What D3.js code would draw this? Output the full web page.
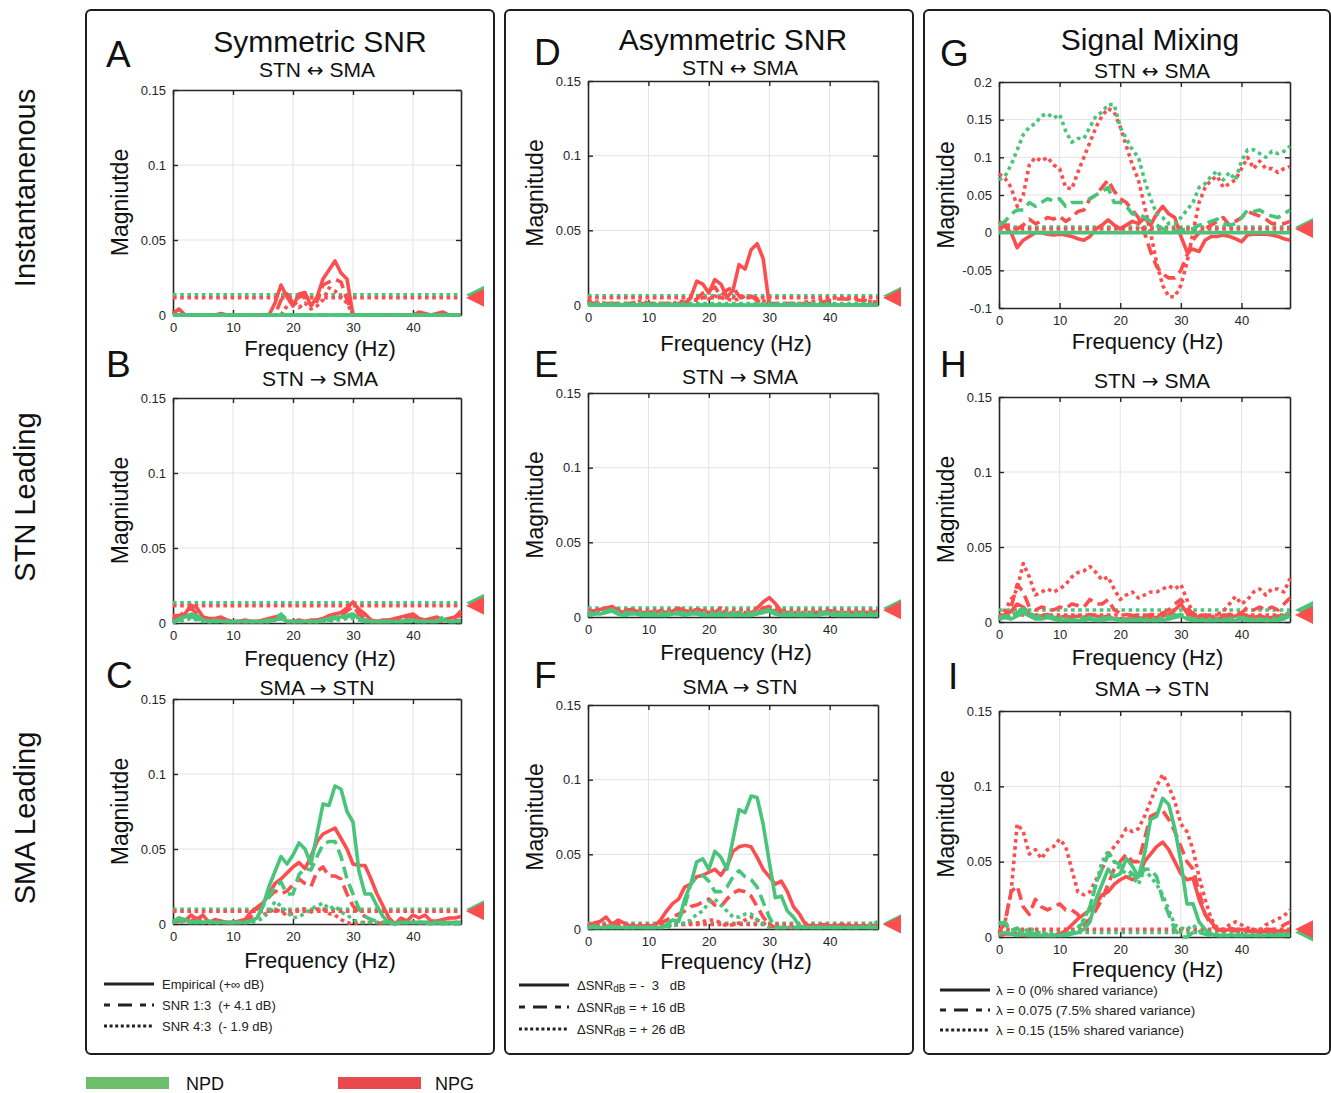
<!DOCTYPE html>
<html><head><meta charset="utf-8">
<script src="https://cdn.jsdelivr.net/npm/d3@7"></script>
<style>body{margin:0;background:#fff} text{font-family:"Liberation Sans",Arial,Helvetica,sans-serif;}</style>
</head><body>
<svg id="chart" width="1331" height="1093" xmlns="http://www.w3.org/2000/svg"></svg>
<script>
// ---------------- DATA ----------------
const freq = [0,1,2,3,4,5,6,7,8,9,10,11,12,13,14,15,16,17,18,19,20,21,22,23,24,25,26,27,28,29,30,31,32,33,34,35,36,37,38,39,40,41,42,43,44,45,46,47,48];
const xTicks = [0,10,20,30,40];
const yTicksStd = [0,0.05,0.1,0.15];
const yTicksMix = [-0.1,-0.05,0,0.05,0.1,0.15,0.2];
const groups = ["NPD","NPG"];

// Panel A (Symmetric SNR, STN <-> SMA)
const a_npd_emp = [0,0,0,0,0,0,0,0,0,0, 0,0,0,0,0,0,0,0,0,0, 0,0,0,0,0,0,0,0,0,0, 0,0,0,0,0,0,0,0,0,0, 0,0,0,0,0,0,0,0,0];
const a_npd_snr13 = [0,0,0,0,0,0,0,0,0,0, 0,0,0,0,0,0,0,0,0,0, 0,0,0,0,0,0,0,0,0,0, 0,0,0,0,0,0,0,0,0,0, 0,0,0,0,0,0,0,0,0];
const a_npd_snr43 = [0,0,0,0,0,0,0,0,0,0, 0,0,0,0,0,0,0,0,0,0, 0,0,0,0,0,0,0,0,0,0, 0,0,0,0,0,0,0,0,0,0, 0,0,0,0,0,0,0,0,0];
const a_npg_emp = [0.001,0.004,0,0,0,0,0,0,0.001,0, 0,0,0,0,0,0,0,0.008,0.02,0.012, 0.006,0.014,0.015,0.006,0.012,0.024,0.03,0.036,0.028,0.024, 0,0,0,0,0,0,0,0,0,0, 0,0.002,0.001,0,0.001,0.002,0,0,0];
const a_npg_snr13 = [0,0,0,0,0,0,0,0,0,0, 0,0,0,0,0,0,0,0,0.01,0.014, 0.008,0.012,0.013,0.01,0.009,0.02,0.022,0.024,0.022,0.01, 0,0,0,0,0,0,0,0,0,0, 0,0,0,0,0,0,0,0,0];
const a_npg_snr43 = [0,0,0,0,0,0,0,0,0,0, 0,0,0,0,0,0,0,0,0,0.006, 0.01,0.005,0.008,0.004,0.006,0.01,0.018,0.016,0.012,0.008, 0,0,0,0,0,0,0,0,0,0, 0,0,0,0,0,0,0,0,0];
const a_thr = [0.0135,0.0115];

// Panel B (Symmetric SNR, STN -> SMA)
const b_npd_emp = [0,0.003,0.004,0.006,0.005,0.002,0.001,0.002,0.001,0.001, 0.001,0.001,0.001,0.001,0.001,0.001,0.002,0.002,0.003,0.001, 0.001,0.001,0.001,0.001,0.001,0.002,0.003,0.004,0.004,0.005, 0.006,0.003,0.002,0.001,0.001,0.001,0.001,0.001,0.001,0.002, 0.002,0.001,0.001,0.001,0.001,0.002,0.001,0.001,0.002];
const b_npd_snr13 = [0.001,0.002,0.005,0.004,0.003,0.001,0.001,0.001,0.001,0.001, 0.001,0.001,0.001,0.001,0.001,0.001,0.001,0.002,0.006,0.002, 0.001,0.001,0.001,0.001,0.001,0.001,0.002,0.003,0.003,0.004, 0.005,0.002,0.001,0.001,0.001,0.001,0.001,0.001,0.001,0.001, 0.001,0.001,0.001,0.001,0.001,0.004,0.001,0.001,0.001];
const b_npd_snr43 = [0.001,0.001,0.002,0.003,0.002,0.001,0.001,0.001,0.001,0.001, 0.001,0.001,0.001,0.001,0.001,0.001,0.001,0.002,0.003,0.001, 0.001,0.001,0.001,0.001,0.001,0.001,0.001,0.002,0.002,0.003, 0.003,0.002,0.001,0.001,0.001,0.001,0.001,0.001,0.001,0.001, 0.001,0.001,0.001,0.001,0.001,0.003,0.001,0.001,0.001];
const b_npg_emp = [0.005,0.005,0.006,0.012,0.01,0.004,0.003,0.003,0.004,0.002, 0.001,0.001,0.002,0.001,0.001,0.002,0.003,0.004,0.005,0.001, 0.001,0.002,0.001,0.002,0.002,0.003,0.005,0.006,0.007,0.01, 0.014,0.009,0.006,0.002,0.001,0.002,0.002,0.003,0.004,0.005, 0.006,0.003,0.002,0.003,0.004,0.002,0.003,0.004,0.008];
const b_npg_snr13 = [0.003,0.004,0.008,0.01,0.006,0.003,0.002,0.002,0.003,0.001, 0.001,0.001,0.001,0.001,0.001,0.001,0.002,0.003,0.004,0.001, 0.001,0.001,0.001,0.001,0.002,0.002,0.003,0.004,0.005,0.008, 0.011,0.006,0.003,0.001,0.001,0.001,0.002,0.002,0.003,0.004, 0.004,0.002,0.002,0.002,0.003,0.002,0.002,0.003,0.006];
const b_npg_snr43 = [0.002,0.003,0.004,0.005,0.004,0.002,0.001,0.001,0.002,0.001, 0.001,0.001,0.001,0.001,0.001,0.001,0.001,0.002,0.003,0.001, 0.001,0.001,0.001,0.001,0.001,0.002,0.002,0.003,0.003,0.005, 0.006,0.004,0.002,0.001,0.001,0.001,0.001,0.001,0.002,0.002, 0.003,0.002,0.001,0.002,0.002,0.001,0.002,0.002,0.004];
const b_thr = [0.0135,0.0115];

// Panel C (Symmetric SNR, SMA -> STN)
const c_npd_emp = [0.002,0.004,0.003,0.001,0.002,0.001,0.002,0.001,0.001,0.001, 0.001,0.001,0.001,0.002,0.004,0.012,0.025,0.035,0.045,0.04, 0.046,0.054,0.05,0.04,0.06,0.08,0.079,0.092,0.09,0.075, 0.068,0.035,0.02,0.02,0.012,0.005,0.001,0,0.001,0.001, 0.001,0.001,0.001,0,0.001,0,0.001,0,0.001];
const c_npd_snr13 = [0.001,0.003,0.002,0.001,0.001,0.001,0.001,0.001,0.001,0.001, 0.001,0.001,0.001,0.002,0.004,0.012,0.018,0.025,0.028,0.02, 0.02,0.033,0.037,0.036,0.045,0.053,0.055,0.055,0.045,0.03, 0.02,0.01,0.005,0.003,0.002,0.001,0.001,0.001,0.001,0.001, 0.001,0.001,0.001,0.001,0.001,0.001,0.001,0.001,0.001];
const c_npd_snr43 = [0.001,0.002,0.001,0.001,0.001,0.001,0.001,0.001,0.001,0.001, 0.001,0.001,0.001,0.001,0.002,0.004,0.008,0.015,0.012,0.008, 0.004,0.005,0.007,0.01,0.012,0.014,0.01,0.012,0.008,0.006, 0.003,0.001,0.001,0.001,0.001,0.001,0.001,0.001,0.001,0.001, 0.001,0.001,0.001,0.001,0.001,0.001,0.001,0.001,0.001];
const c_npg_emp = [0.001,0.004,0.002,0.006,0.003,0.006,0.001,0.003,0.002,0.001, 0.001,0.002,0.003,0.008,0.011,0.014,0.02,0.027,0.03,0.034, 0.038,0.041,0.037,0.045,0.055,0.06,0.062,0.064,0.057,0.05, 0.04,0.039,0.039,0.03,0.02,0.012,0.004,0,0.004,0.002, 0.006,0.004,0.006,0.002,0.002,0.003,0.004,0.004,0.005];
const c_npg_snr13 = [0.001,0.002,0.003,0.002,0.004,0.002,0.001,0.002,0.001,0.001, 0.001,0.001,0.002,0.005,0.01,0.014,0.018,0.022,0.02,0.022, 0.026,0.03,0.027,0.025,0.035,0.038,0.032,0.032,0.03,0.02, 0.012,0.008,0.005,0.003,0,0.001,0.001,0.001,0.001,0.001, 0.001,0.001,0.001,0.001,0.001,0.001,0.001,0.001,0.001];
const c_npg_snr43 = [0.001,0.002,0.001,0.003,0.002,0.001,0.001,0.001,0.001,0.001, 0.001,0.001,0.001,0.003,0.005,0.006,0.008,0.01,0.008,0.006, 0.007,0.01,0.01,0.008,0.01,0.01,0.007,0.006,0.003,0.001, 0,0.001,0.001,0.001,0.001,0.001,0.001,0.001,0.001,0.001, 0.001,0.001,0.001,0.001,0.001,0.001,0.001,0.001,0.001];
const c_thr = [0.0098,0.0085];

// Panel D (Asymmetric SNR, STN <-> SMA)
const d_npd_emp = [0,0,0,0,0,0,0,0,0,0, 0,0,0,0,0,0,0,0,0,0, 0,0,0,0,0,0,0,0,0,0, 0,0,0,0,0,0,0,0,0,0, 0,0,0,0,0,0,0,0,0];
const d_npd_snr13 = [0,0,0,0,0,0,0,0,0,0, 0,0,0,0,0,0,0,0,0,0, 0,0,0,0,0,0,0,0,0,0, 0,0,0,0,0,0,0,0,0,0, 0,0,0,0,0,0,0,0,0];
const d_npd_snr43 = [0.001,0.001,0.001,0.001,0.001,0.001,0.001,0.001,0.001,0.001, 0.001,0.001,0.001,0.001,0.001,0.001,0.001,0.001,0.001,0.001, 0.001,0.001,0.001,0.001,0.001,0.001,0.001,0.001,0.001,0.001, 0.001,0.001,0.001,0.001,0.001,0.001,0.001,0.001,0.001,0.001, 0.001,0.001,0.001,0.001,0.001,0.001,0.001,0.001,0.001];
const d_npg_emp = [0,0,0,0,0,0,0,0,0,0, 0,0,0,0,0,0,0,0.005,0.016,0.014, 0.008,0.017,0.014,0.005,0.01,0.027,0.024,0.037,0.041,0.031, 0,0,0,0,0,0,0,0,0,0, 0,0,0,0,0,0,0,0,0];
const d_npg_snr13 = [0.002,0.001,0.001,0.001,0.001,0.001,0.001,0.001,0.002,0.001, 0.001,0.001,0.001,0.001,0.001,0.001,0.002,0.002,0.004,0.008, 0.01,0.012,0.006,0.01,0.012,0.006,0.005,0.006,0.003,0.001, 0.001,0.001,0.001,0.001,0.001,0.001,0.001,0.001,0.001,0.002, 0.003,0.004,0.004,0.004,0.004,0.003,0.003,0.002,0.002];
const d_npg_snr43 = [0.003,0.002,0.002,0.001,0.001,0.001,0.001,0.001,0.002,0.003, 0.001,0.001,0.001,0.001,0.001,0.002,0.003,0.004,0.003,0.005, 0.004,0.006,0.005,0.004,0.003,0.004,0.006,0.005,0.004,0.003, 0.001,0.001,0.001,0.001,0.001,0.001,0.002,0.002,0.003,0.004, 0.004,0.005,0.005,0.004,0.005,0.004,0.003,0.002,0.002];
const d_thr = [0.0062,0.0049];

// Panel E (Asymmetric SNR, STN -> SMA)
const e_npd_emp = [0.001,0.002,0.002,0.003,0.004,0.002,0.001,0.002,0.002,0.001, 0.001,0.001,0.001,0.001,0.002,0.002,0.001,0.002,0.002,0.001, 0.001,0.001,0.001,0.001,0.001,0.001,0.001,0.001,0.002,0.003, 0.004,0.002,0.001,0.001,0.001,0.001,0.001,0.001,0.001,0.002, 0.002,0.001,0.001,0.001,0.001,0.001,0.001,0.001,0.001];
const e_npd_snr13 = [0.002,0.002,0.003,0.004,0.005,0.003,0.002,0.003,0.002,0.002, 0.002,0.002,0.002,0.002,0.003,0.003,0.002,0.003,0.003,0.002, 0.002,0.002,0.002,0.002,0.002,0.002,0.002,0.002,0.003,0.004, 0.005,0.003,0.002,0.002,0.002,0.002,0.002,0.002,0.002,0.003, 0.003,0.002,0.002,0.002,0.002,0.002,0.002,0.002,0.002];
const e_npd_snr43 = [0.003,0.003,0.003,0.004,0.004,0.003,0.003,0.003,0.003,0.003, 0.003,0.003,0.003,0.003,0.003,0.003,0.003,0.003,0.003,0.003, 0.003,0.003,0.003,0.003,0.003,0.003,0.003,0.003,0.003,0.004, 0.004,0.003,0.003,0.003,0.003,0.003,0.003,0.003,0.003,0.003, 0.003,0.003,0.003,0.003,0.003,0.003,0.003,0.003,0.003];
const e_npg_emp = [0.003,0.004,0.005,0.006,0.007,0.004,0.003,0.005,0.004,0.002, 0.002,0.003,0.004,0.002,0.004,0.006,0.004,0.003,0.005,0.004, 0.003,0.002,0.003,0.001,0.001,0.002,0.001,0.002,0.006,0.01, 0.013,0.009,0.004,0.002,0.002,0.001,0.001,0.002,0.002,0.003, 0.004,0.003,0.002,0.002,0.002,0.003,0.002,0.002,0.003];
const e_npg_snr13 = [0.004,0.004,0.005,0.005,0.006,0.005,0.004,0.005,0.004,0.003, 0.003,0.004,0.004,0.003,0.004,0.005,0.004,0.004,0.005,0.004, 0.004,0.003,0.006,0.002,0.002,0.003,0.002,0.003,0.004,0.006, 0.007,0.005,0.003,0.003,0.003,0.002,0.002,0.003,0.003,0.003, 0.004,0.003,0.003,0.003,0.003,0.003,0.003,0.003,0.004];
const e_npg_snr43 = [0.003,0.003,0.004,0.004,0.005,0.004,0.003,0.004,0.003,0.003, 0.003,0.003,0.004,0.003,0.003,0.004,0.003,0.004,0.004,0.003, 0.003,0.003,0.004,0.003,0.003,0.003,0.003,0.003,0.004,0.004, 0.005,0.004,0.003,0.003,0.003,0.003,0.003,0.003,0.003,0.003, 0.004,0.003,0.003,0.003,0.003,0.003,0.003,0.003,0.003];
const e_thr = [0.006,0.0045];

// Panel F (Asymmetric SNR, SMA -> STN)
const f_npd_emp = [0.001,0.002,0.001,0.001,0.002,0.001,0.001,0.001,0.001,0.001, 0.001,0.001,0.001,0.003,0.006,0.005,0.02,0.03,0.045,0.047, 0.04,0.052,0.048,0.04,0.06,0.08,0.078,0.089,0.088,0.07, 0.045,0.021,0.022,0.012,0.008,0.002,0.001,0.001,0.001,0.001, 0.001,0.001,0.001,0.001,0.001,0.001,0.001,0.001,0.001];
const f_npd_snr13 = [0.001,0.001,0.001,0.001,0.001,0.001,0.001,0.001,0.001,0.001, 0.001,0.001,0.001,0.002,0.003,0.006,0.015,0.03,0.035,0.036, 0.032,0.025,0.025,0.028,0.035,0.039,0.035,0.033,0.028,0.018, 0.008,0.001,0.001,0.001,0.001,0.001,0.001,0.001,0.001,0.001, 0.001,0.001,0.001,0.001,0.001,0.001,0.001,0.001,0.001];
const f_npd_snr43 = [0.001,0.001,0.001,0.001,0.001,0.001,0.001,0.001,0.001,0.001, 0.001,0.001,0.001,0.001,0.002,0.003,0.004,0.006,0.01,0.012, 0.018,0.02,0.016,0.012,0.008,0.008,0.01,0.01,0.006,0.003, 0.001,0.001,0.001,0.001,0.001,0.001,0.001,0.001,0.001,0.001, 0.001,0.001,0.001,0.001,0.001,0.001,0.002,0.003,0.005];
const f_npg_emp = [0.002,0.004,0.005,0.008,0.003,0.006,0.004,0.002,0.002,0.002, 0.002,0.002,0.006,0.012,0.017,0.02,0.028,0.03,0.035,0.036, 0.038,0.04,0.036,0.042,0.052,0.055,0.056,0.055,0.048,0.04, 0.035,0.03,0.032,0.025,0.015,0.01,0.003,0.002,0.002,0.003, 0.002,0.002,0.003,0.002,0.002,0.002,0.002,0.002,0.003];
const f_npg_snr13 = [0.002,0.002,0.003,0.002,0.002,0.003,0.002,0.002,0.002,0.002, 0.002,0.002,0.004,0.006,0.008,0.01,0.012,0.015,0.016,0.018, 0.02,0.016,0.015,0.02,0.024,0.026,0.025,0.022,0.015,0.008, 0.003,0.001,0.001,0.001,0.001,0.001,0.002,0.002,0.002,0.002, 0.002,0.002,0.002,0.002,0.002,0.002,0.002,0.002,0.002];
const f_npg_snr43 = [0.002,0.002,0.002,0.002,0.002,0.002,0.002,0.002,0.002,0.002, 0.002,0.002,0.002,0.002,0.002,0.003,0.003,0.004,0.004,0.005, 0.006,0.006,0.004,0.002,0.003,0.004,0.006,0.008,0.006,0.004, 0.002,0.001,0.001,0.001,0.001,0.002,0.002,0.002,0.002,0.002, 0.002,0.002,0.002,0.002,0.002,0.002,0.002,0.002,0.002];
const f_thr = [0.0038,0.003];

// Panel G (Signal Mixing, STN <-> SMA)
const g_npd_lam0 = [0,0,0,0,0,0,0,0,0,0, 0,0,0,0,0,0,0,0,0,0, 0,0,0,0,0,0,0,0,0,0, 0,0,0,0,0,0,0,0,0,0, 0,0,0,0,0,0,0,0,0];
const g_npd_lam075 = [0.01,0.015,0.025,0.03,0.03,0.04,0.035,0.04,0.045,0.042, 0.045,0.035,0.04,0.04,0.04,0.045,0.05,0.055,0.06,0.04, 0.04,0.035,0.025,0.025,0.02,0.015,0.01,0.005,0.003,0.002, 0.003,0.005,0.005,0.01,0.012,0.015,0.018,0.012,0.01,0.012, 0.02,0.03,0.028,0.03,0.025,0.022,0.02,0.025,0.03];
const g_npd_lam15 = [0.07,0.075,0.09,0.11,0.13,0.14,0.145,0.155,0.158,0.152, 0.157,0.135,0.12,0.125,0.125,0.14,0.155,0.16,0.17,0.17, 0.14,0.125,0.11,0.1,0.07,0.045,0.025,0.02,0.012,0.012, 0.02,0.03,0.04,0.06,0.065,0.075,0.082,0.07,0.08,0.07, 0.095,0.11,0.11,0.105,0.1,0.108,0.105,0.108,0.115];
const g_npg_lam0 = [0.015,0.008,0,-0.02,-0.01,-0.005,0,0,-0.002,-0.003, -0.002,-0.003,-0.005,-0.008,-0.01,-0.005,0.005,0.01,0.017,0.01, 0.005,0.01,0.015,0.012,0.02,0.01,0.025,0.035,0.025,0.02, -0.005,-0.025,-0.022,-0.025,-0.01,-0.005,-0.005,-0.003,-0.005,-0.008, -0.012,-0.003,-0.002,-0.002,-0.002,-0.003,-0.005,-0.008,-0.01];
const g_npg_lam075 = [0.005,0.01,0.01,0.005,0.01,0.018,0.012,0.015,0.02,0.018, 0.022,0.015,0.02,0.028,0.03,0.045,0.05,0.06,0.07,0.055, 0.045,0.04,0.03,0.02,0,-0.025,-0.045,-0.055,-0.06,-0.06, -0.05,-0.03,-0.01,0,0.005,0.01,0.015,0.02,0.01,0.015, 0.02,0.028,0.025,0.022,0.018,0.012,0.012,0.012,0.015];
const g_npg_lam15 = [0.078,0.072,0.06,0.035,0.05,0.09,0.1,0.095,0.1,0.09, 0.085,0.06,0.058,0.08,0.1,0.12,0.14,0.155,0.165,0.16, 0.14,0.115,0.09,0.07,0.035,0,-0.04,-0.07,-0.085,-0.085, -0.07,-0.04,0,0.04,0.06,0.07,0.075,0.06,0.065,0.07, 0.085,0.1,0.085,0.095,0.085,0.085,0.08,0.085,0.088];
const g_thr = [0.0076,0.005];

// Panel H (Signal Mixing, STN -> SMA)
const h_npd_lam0 = [0.002,0.003,0.002,0.004,0.006,0.004,0.002,0.002,0.003,0.002, 0.001,0.001,0.001,0.001,0.001,0.002,0.001,0.001,0.002,0.002, 0.001,0.001,0.001,0.001,0.001,0.001,0.001,0.001,0.002,0.003, 0.004,0.002,0.001,0.001,0.001,0.001,0.001,0.001,0.001,0.001, 0.002,0.001,0.001,0.001,0.001,0.001,0.001,0.002,0.004];
const h_npd_lam075 = [0.003,0.004,0.003,0.006,0.009,0.006,0.003,0.004,0.004,0.003, 0.002,0.002,0.001,0.002,0.002,0.003,0.002,0.002,0.003,0.001, 0.001,0.001,0.001,0.002,0.001,0.001,0.001,0.002,0.003,0.004, 0.005,0.003,0.002,0.001,0.001,0.001,0.001,0.001,0.002,0.002, 0.003,0.002,0.001,0.002,0.001,0.001,0.002,0.003,0.006];
const h_npd_lam15 = [0.003,0.004,0.004,0.007,0.009,0.006,0.004,0.004,0.004,0.003, 0.003,0.002,0.002,0.002,0.003,0.003,0.002,0.003,0.003,0.002, 0.002,0.002,0.002,0.002,0.002,0.002,0.002,0.003,0.004,0.005, 0.005,0.003,0.002,0.002,0.002,0.002,0.002,0.002,0.002,0.003, 0.003,0.002,0.002,0.002,0.002,0.002,0.003,0.004,0.007];
const h_npg_lam0 = [0.003,0.005,0.007,0.012,0.01,0.005,0.004,0.004,0.005,0.003, 0.003,0.004,0.003,0.004,0.003,0.005,0.004,0.003,0.004,0.002, 0.002,0.002,0.002,0.003,0.002,0.003,0.003,0.004,0.005,0.008, 0.012,0.006,0.004,0.003,0.003,0.002,0.002,0.003,0.003,0.004, 0.005,0.004,0.003,0.004,0.003,0.003,0.004,0.004,0.006];
const h_npg_lam075 = [0.002,0.005,0.01,0.025,0.02,0.01,0.008,0.01,0.009,0.008, 0.01,0.009,0.012,0.011,0.01,0.015,0.012,0.012,0.015,0.008, 0.006,0.005,0.004,0.005,0.004,0.005,0.005,0.006,0.008,0.012, 0.015,0.01,0.005,0.004,0.004,0.003,0.004,0.004,0.005,0.006, 0.006,0.01,0.008,0.01,0.008,0.01,0.008,0.012,0.016];
const h_npg_lam15 = [0.003,0.008,0.015,0.022,0.039,0.03,0.018,0.02,0.022,0.02, 0.022,0.025,0.03,0.033,0.034,0.037,0.033,0.028,0.03,0.022, 0.015,0.018,0.02,0.016,0.018,0.02,0.02,0.022,0.024,0.022, 0.025,0.015,0.006,0.004,0.005,0.003,0.005,0.007,0.012,0.017, 0.012,0.015,0.02,0.022,0.018,0.022,0.022,0.02,0.029];
const h_thr = [0.008,0.0047];

// Panel I (Signal Mixing, SMA -> STN)
const i_npd_lam0 = [0.002,0.003,0.002,0.001,0.002,0.001,0.001,0.001,0.001,0.001, 0.001,0.001,0.002,0.003,0.005,0.01,0.025,0.035,0.045,0.04, 0.042,0.052,0.047,0.04,0.055,0.078,0.08,0.092,0.088,0.072, 0.05,0.022,0.022,0.01,0.005,0.002,0.001,0.001,0.001,0.001, 0.001,0.001,0.001,0.001,0.001,0.001,0.001,0.001,0.001];
const i_npd_lam075 = [0.008,0.01,0.004,0.006,0.002,0.003,0.002,0.002,0.001,0.001, 0.001,0.002,0.003,0.006,0.01,0.02,0.035,0.045,0.055,0.05, 0.048,0.045,0.042,0.038,0.045,0.045,0.04,0.025,0.015,0.005, 0,0,0.003,0.003,0.002,0.001,0.001,0.001,0.001,0.001, 0.001,0.001,0.001,0.001,0.001,0.001,0.001,0.001,0.002];
const i_npd_lam15 = [0.01,0.008,0.005,0.004,0.003,0.006,0.004,0.002,0.002,0.001, 0.001,0.002,0.003,0.006,0.012,0.02,0.035,0.05,0.057,0.05, 0.045,0.042,0.04,0.035,0.045,0.04,0.035,0.028,0.018,0.008, 0.006,0.005,0.008,0.004,0.002,0.001,0.001,0.001,0.001,0.001, 0.001,0.001,0.001,0.001,0.001,0.002,0.002,0.002,0.003];
const i_npg_lam0 = [0.001,0.002,0.002,0.002,0.001,0.001,0.001,0.001,0.001,0.001, 0.002,0.004,0.008,0.012,0.015,0.018,0.022,0.028,0.03,0.035, 0.038,0.04,0.038,0.04,0.05,0.055,0.06,0.063,0.058,0.05, 0.042,0.038,0.039,0.025,0.015,0.01,0.005,0.004,0.005,0.004, 0.005,0.004,0.004,0.003,0.004,0.003,0.004,0.004,0.004];
const i_npg_lam075 = [0.003,0.01,0.03,0.034,0.02,0.015,0.025,0.02,0.018,0.02, 0.022,0.018,0.018,0.015,0.008,0.012,0.018,0.025,0.035,0.045, 0.05,0.055,0.05,0.05,0.065,0.08,0.082,0.084,0.078,0.07, 0.06,0.05,0.045,0.03,0.015,0.008,0.005,0.005,0.006,0.005, 0.005,0.004,0.004,0.004,0.005,0.005,0.005,0.008,0.01];
const i_npg_lam15 = [0.002,0.01,0.03,0.075,0.07,0.055,0.058,0.052,0.058,0.06, 0.065,0.06,0.045,0.03,0.028,0.03,0.038,0.045,0.055,0.06, 0.065,0.072,0.07,0.072,0.08,0.09,0.1,0.108,0.1,0.09, 0.075,0.07,0.058,0.04,0.025,0.012,0.006,0.005,0.008,0.01, 0.008,0.006,0.005,0.004,0.008,0.01,0.012,0.014,0.018];
const i_thr = [0.003,0.0051];

// Legend texts
const legendSym = ["Empirical (+\u221E dB)", "SNR 1:3  (+ 4.1 dB)", "SNR 4:3  (- 1.9 dB)"];
const legendAsym = [" = -  3   dB", " = + 16 dB", " = + 26 dB"];
const legendMix = ["\u03BB = 0 (0% shared variance)", "\u03BB = 0.075 (7.5% shared variance)", "\u03BB = 0.15 (15% shared variance)"];
const rowLabels = ["Instantanenous", "STN Leading", "SMA Leading"];

// ---------------- STYLE ----------------
const GREEN = "#49c47b", RED = "#fd4e4f";
const groupColor = {NPD: GREEN, NPG: RED};
const LW = 3.6;
const dash = {solid: null, dashed: "12,6", dotted: "3.6,3.6"};
const styleOrder = ["dotted","dashed","solid"];

const panels = [
 {L:"A", x0:173,x1:461,y0:90,y1:315, dom:[0,0.15], yt:yTicksStd, yl:"Magniutde", sub:["STN","\u2194","SMA"],
  npd:{solid:a_npd_emp,dashed:a_npd_snr13,dotted:a_npd_snr43}, npg:{solid:a_npg_emp,dashed:a_npg_snr13,dotted:a_npg_snr43}, thr:a_thr},
 {L:"B", x0:173,x1:461,y0:398,y1:623, dom:[0,0.15], yt:yTicksStd, yl:"Magniutde", sub:["STN","\u2192","SMA"],
  npd:{solid:b_npd_emp,dashed:b_npd_snr13,dotted:b_npd_snr43}, npg:{solid:b_npg_emp,dashed:b_npg_snr13,dotted:b_npg_snr43}, thr:b_thr},
 {L:"C", x0:173,x1:461,y0:699,y1:924, dom:[0,0.15], yt:yTicksStd, yl:"Magniutde", sub:["SMA","\u2192","STN"],
  npd:{solid:c_npd_emp,dashed:c_npd_snr13,dotted:c_npd_snr43}, npg:{solid:c_npg_emp,dashed:c_npg_snr13,dotted:c_npg_snr43}, thr:c_thr},
 {L:"D", x0:588,x1:878,y0:81,y1:305, dom:[0,0.15], yt:yTicksStd, yl:"Magnitude", sub:["STN","\u2194","SMA"],
  npd:{solid:d_npd_emp,dashed:d_npd_snr13,dotted:d_npd_snr43}, npg:{solid:d_npg_emp,dashed:d_npg_snr13,dotted:d_npg_snr43}, thr:d_thr},
 {L:"E", x0:588,x1:878,y0:393,y1:617, dom:[0,0.15], yt:yTicksStd, yl:"Magnitude", sub:["STN","\u2192","SMA"],
  npd:{solid:e_npd_emp,dashed:e_npd_snr13,dotted:e_npd_snr43}, npg:{solid:e_npg_emp,dashed:e_npg_snr13,dotted:e_npg_snr43}, thr:e_thr},
 {L:"F", x0:588,x1:878,y0:705,y1:929, dom:[0,0.15], yt:yTicksStd, yl:"Magnitude", sub:["SMA","\u2192","STN"],
  npd:{solid:f_npd_emp,dashed:f_npd_snr13,dotted:f_npd_snr43}, npg:{solid:f_npg_emp,dashed:f_npg_snr13,dotted:f_npg_snr43}, thr:f_thr},
 {L:"G", x0:999,x1:1290,y0:82,y1:308, dom:[-0.1,0.2], yt:yTicksMix, yl:"Magnitude", sub:["STN","\u2194","SMA"],
  npd:{solid:g_npd_lam0,dashed:g_npd_lam075,dotted:g_npd_lam15}, npg:{solid:g_npg_lam0,dashed:g_npg_lam075,dotted:g_npg_lam15}, thr:g_thr},
 {L:"H", x0:999,x1:1290,y0:397,y1:622, dom:[0,0.15], yt:yTicksStd, yl:"Magnitude", sub:["STN","\u2192","SMA"],
  npd:{solid:h_npd_lam0,dashed:h_npd_lam075,dotted:h_npd_lam15}, npg:{solid:h_npg_lam0,dashed:h_npg_lam075,dotted:h_npg_lam15}, thr:h_thr},
 {L:"I", x0:999,x1:1290,y0:711,y1:937, dom:[0,0.15], yt:yTicksStd, yl:"Magnitude", sub:["SMA","\u2192","STN"],
  npd:{solid:i_npd_lam0,dashed:i_npd_lam075,dotted:i_npd_lam15}, npg:{solid:i_npg_lam0,dashed:i_npg_lam075,dotted:i_npg_lam15}, thr:i_thr}
];

// per-panel text placement (layout)
const letterPos = {A:[106,67],B:[106,377],C:[106,688],D:[534,65],E:[534,377],F:[534,688],G:[940,66],H:[940,377],I:[948,689]};
const subPos = {A:[317,77],B:[320,386],C:[317,695],D:[740,75],E:[740,384],F:[740,694],G:[1152,78],H:[1152,388],I:[1152,696]};
const xlabOff = {A:41,B:43,C:44,D:46,E:43,F:40,G:41,H:43,I:40};

const svg = d3.select("#chart");
svg.append("rect").attr("width",1331).attr("height",1093).attr("fill","#fff");

// boxes
[[86,10,408,1044],[505,10,408,1044],[924,10,406,1044]].forEach(b=>{
  svg.append("rect").attr("x",b[0]).attr("y",b[1]).attr("width",b[2]).attr("height",b[3])
    .attr("rx",5).attr("fill","none").attr("stroke","#1e1e1e").attr("stroke-width",2);
});

// row labels
const rowY = [188, 497, 818];
rowLabels.forEach((t,i)=>{
  svg.append("text").attr("transform",`translate(35,${rowY[i]}) rotate(-90)`)
    .attr("text-anchor","middle").attr("font-size",29).attr("fill","#111").text(t);
});

// column titles
[["Symmetric SNR",320,52],["Asymmetric SNR",733,50],["Signal Mixing",1150,50]].forEach(t=>{
  svg.append("text").attr("x",t[1]).attr("y",t[2]).attr("text-anchor","middle").attr("font-size",30).attr("fill","#111").text(t[0]);
});

const fmt = d => String(+d.toFixed(3));

panels.forEach(p=>{
  const x = d3.scaleLinear().domain([0,48]).range([p.x0,p.x1]);
  const y = d3.scaleLinear().domain(p.dom).range([p.y1,p.y0]);
  const g = svg.append("g");

  // grid
  g.append("g").selectAll("line").data(xTicks.slice(1)).join("line")
    .attr("x1",d=>x(d)).attr("x2",d=>x(d)).attr("y1",p.y0).attr("y2",p.y1)
    .attr("stroke","#e3e3e3").attr("stroke-width",1);
  g.append("g").selectAll("line").data(p.yt.slice(1,-1)).join("line")
    .attr("x1",p.x0).attr("x2",p.x1).attr("y1",d=>y(d)).attr("y2",d=>y(d))
    .attr("stroke","#e3e3e3").attr("stroke-width",1);

  // axes (inward ticks, box)
  const axB = g.append("g").attr("transform",`translate(0,${p.y1})`).call(d3.axisBottom(x).tickValues(xTicks).tickSizeInner(-5).tickSizeOuter(0).tickPadding(8).tickFormat(d3.format("d")));
  const axT = g.append("g").attr("transform",`translate(0,${p.y0})`).call(d3.axisTop(x).tickValues(xTicks).tickSizeInner(-5).tickSizeOuter(0).tickFormat(""));
  const axL = g.append("g").attr("transform",`translate(${p.x0},0)`).call(d3.axisLeft(y).tickValues(p.yt).tickSizeInner(-5).tickSizeOuter(0).tickPadding(7).tickFormat(fmt));
  const axR = g.append("g").attr("transform",`translate(${p.x1},0)`).call(d3.axisRight(y).tickValues(p.yt).tickSizeInner(-5).tickSizeOuter(0).tickFormat(""));
  [axB,axT,axL,axR].forEach(a=>{
    a.select(".domain").attr("stroke","#262626").attr("stroke-width",1.6);
    a.selectAll(".tick line").attr("stroke","#262626").attr("stroke-width",1.4);
    a.selectAll(".tick text").attr("font-size",13).attr("fill","#262626").attr("font-family","'Liberation Sans',Arial,sans-serif");
  });

  const line = d3.line().defined(d=>d[1]!=null && !isNaN(d[1])).x(d=>x(d[0])).y(d=>y(d[1]));

  // thresholds
  groups.forEach((gr,k)=>{
    g.append("line").attr("x1",p.x0).attr("x2",p.x1).attr("y1",y(p.thr[k])).attr("y2",y(p.thr[k]))
      .attr("stroke",groupColor[gr]).attr("stroke-width",LW).attr("stroke-dasharray",dash.dotted);
  });

  // series: NPG first, NPD on top
  [["NPG",p.npg],["NPD",p.npd]].forEach(([gr,set])=>{
    styleOrder.forEach(st=>{
      const vals = set[st];
      const pts = freq.map((f,i)=>[f,vals[i]]);
      const path = g.append("path").attr("d",line(pts)).attr("fill","none")
        .attr("stroke",groupColor[gr]).attr("stroke-width",LW).attr("stroke-linejoin","round");
      if(dash[st]) path.attr("stroke-dasharray",dash[st]);
    });
  });

  // threshold triangles
  groups.forEach((gr,k)=>{
    const ty = y(p.thr[k]);
    const tx = p.x1 + 5;
    g.append("path").attr("d",`M${tx},${ty} L${tx+18},${ty-9} L${tx+18},${ty+9} Z`).attr("fill",groupColor[gr]);
  });

  // labels
  g.append("text").attr("transform",`translate(${p.x0-53},${(p.y0+p.y1)/2}) rotate(-90)`)
    .attr("text-anchor","middle").attr("dominant-baseline","central").attr("font-size",23).attr("fill","#111").text(p.yl);
  g.append("text").attr("x",(p.x0+p.x1)/2+3).attr("y",p.y1+xlabOff[p.L]).attr("text-anchor","middle")
    .attr("font-size",22).attr("fill","#111").text("Frequency (Hz)");
  g.append("text").attr("x",letterPos[p.L][0]).attr("y",letterPos[p.L][1]).attr("font-size",37).attr("fill","#111").text(p.L);
  const st = g.append("text").attr("x",subPos[p.L][0]).attr("y",subPos[p.L][1]).attr("text-anchor","middle").attr("font-size",21).attr("fill","#111");
  st.append("tspan").text(p.sub[0] + " ");
  st.append("tspan").attr("font-family","'DejaVu Sans',sans-serif").attr("font-size",20).text(p.sub[1]);
  st.append("tspan").text(" " + p.sub[2]);
});

// in-box legends
function legendLines(xs, ys){
  ["solid","dashed","dotted"].forEach((st,i)=>{
    const l = svg.append("line").attr("x1",xs).attr("x2",xs+50).attr("y1",ys[i]).attr("y2",ys[i])
      .attr("stroke","#222").attr("stroke-width",3);
    if(st==="dashed") l.attr("stroke-dasharray","6,8,14,8,6");
    if(st==="dotted") l.attr("stroke-dasharray","3,2.6");
  });
}
const ySym = [984,1005,1026];
legendLines(104, ySym);
legendSym.forEach((t,i)=>svg.append("text").attr("x",162).attr("y",ySym[i]+5).attr("font-size",13).attr("fill","#222").style("white-space","pre").text(t));

const yAsym = [985,1007,1029];
legendLines(519, yAsym);
legendAsym.forEach((t,i)=>{
  const tx = svg.append("text").attr("x",577).attr("y",yAsym[i]+5).attr("font-size",13).attr("fill","#222").style("white-space","pre");
  tx.append("tspan").text("\u0394SNR");
  tx.append("tspan").attr("font-size",10).attr("dy",2).text("dB");
  tx.append("tspan").attr("dy",-2).text(t);
});

const yMix = [990,1010,1030];
legendLines(940, yMix);
legendMix.forEach((t,i)=>svg.append("text").attr("x",996).attr("y",yMix[i]+5).attr("font-size",13.5).attr("fill","#222").text(t));

// group legend
svg.append("rect").attr("x",86).attr("y",1077).attr("width",83).attr("height",12).attr("fill","#6dbe6a");
svg.append("text").attr("x",186).attr("y",1090).attr("font-size",18).attr("fill","#111").text(groups[0]);
svg.append("rect").attr("x",338).attr("y",1077).attr("width",83).attr("height",12).attr("fill","#e8494d");
svg.append("text").attr("x",435).attr("y",1090).attr("font-size",18).attr("fill","#111").text(groups[1]);
</script>
</body></html>
